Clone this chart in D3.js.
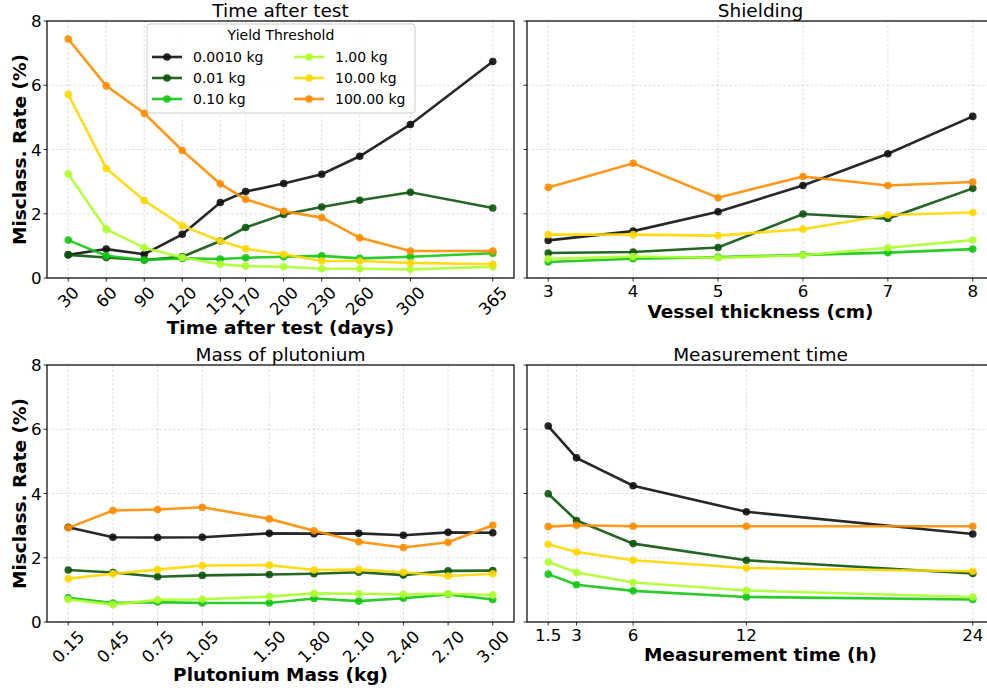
<!DOCTYPE html>
<html>
<head>
<meta charset="utf-8">
<script src="https://cdn.jsdelivr.net/npm/d3@7"></script>
<style>
  body { margin: 0; background: #fff; }
  svg text { font-family: "DejaVu Sans", sans-serif; fill: #000; }
</style>
</head>
<body>
<div id="chart"></div>
<script>
// yield thresholds (legend)
const seriesNames = ["0.0010 kg", "0.01 kg", "0.10 kg", "1.00 kg", "10.00 kg", "100.00 kg"]
const seriesColors = ["#111111", "#0d550d", "#12c612", "#adff2f", "#ffd700", "#ff8c00"]

// Time after test
const timeDays = [30, 60, 90, 120, 150, 170, 200, 230, 260, 300, 365]
const timeRates = [
  [0.72, 0.90, 0.74, 1.36, 2.35, 2.69, 2.94, 3.23, 3.79, 4.78, 6.74],
  [0.72, 0.64, 0.56, 0.66, 1.15, 1.57, 1.98, 2.21, 2.42, 2.67, 2.18],
  [1.18, 0.69, 0.56, 0.61, 0.59, 0.63, 0.66, 0.69, 0.61, 0.66, 0.77],
  [3.24, 1.52, 0.94, 0.64, 0.43, 0.37, 0.35, 0.29, 0.29, 0.27, 0.35],
  [5.72, 3.41, 2.41, 1.63, 1.15, 0.91, 0.74, 0.53, 0.53, 0.47, 0.43],
  [7.44, 5.98, 5.13, 3.97, 2.93, 2.45, 2.08, 1.88, 1.25, 0.84, 0.84]
]

// Shielding
const thickness = [3, 4, 5, 6, 7, 8]
const shieldRates = [
  [1.17, 1.46, 2.06, 2.88, 3.87, 5.03],
  [0.78, 0.81, 0.95, 1.99, 1.85, 2.79],
  [0.50, 0.60, 0.65, 0.72, 0.79, 0.90],
  [0.60, 0.67, 0.63, 0.71, 0.94, 1.18],
  [1.35, 1.35, 1.32, 1.52, 1.96, 2.04],
  [2.82, 3.57, 2.50, 3.16, 2.88, 2.99]
]

// Mass of plutonium
const puMass = [0.15, 0.45, 0.75, 1.05, 1.50, 1.80, 2.10, 2.40, 2.70, 3.00]
const massRates = [
  [2.95, 2.64, 2.63, 2.64, 2.76, 2.75, 2.76, 2.70, 2.79, 2.78],
  [1.62, 1.54, 1.41, 1.45, 1.48, 1.50, 1.55, 1.46, 1.59, 1.60],
  [0.75, 0.59, 0.62, 0.59, 0.59, 0.73, 0.65, 0.74, 0.86, 0.70],
  [0.70, 0.54, 0.69, 0.71, 0.79, 0.89, 0.88, 0.86, 0.88, 0.84],
  [1.35, 1.50, 1.63, 1.76, 1.77, 1.62, 1.63, 1.55, 1.43, 1.50],
  [2.93, 3.47, 3.50, 3.57, 3.21, 2.84, 2.50, 2.32, 2.48, 3.01]
]

// Measurement time
const measHours = [1.5, 3, 6, 12, 24]
const measRates = [
  [6.10, 5.11, 4.24, 3.43, 2.74],
  [3.99, 3.16, 2.44, 1.92, 1.51],
  [1.49, 1.16, 0.97, 0.78, 0.70],
  [1.87, 1.54, 1.23, 0.98, 0.78],
  [2.42, 2.18, 1.92, 1.68, 1.58],
  [2.97, 3.01, 2.98, 2.98, 2.98]
]

const yTicks = [0, 2, 4, 6, 8]

const panels = [
  { title: "Time after test", xlabel: "Time after test (days)", x: timeDays, rates: timeRates,
    tickText: d => String(d), left: 47, top: 21, rotate: true, ylabel: true, legend: true, labelGap: 56 },
  { title: "Shielding", xlabel: "Vessel thickness (cm)", x: thickness, rates: shieldRates,
    tickText: d => String(d), left: 527, top: 21, rotate: false, ylabel: false, labelGap: 40 },
  { title: "Mass of plutonium", xlabel: "Plutonium Mass (kg)", x: puMass, rates: massRates,
    tickText: d => d.toFixed(2), left: 47, top: 365, rotate: true, ylabel: true, labelGap: 59 },
  { title: "Measurement time", xlabel: "Measurement time (h)", x: measHours, rates: measRates,
    tickText: d => String(d), left: 527, top: 365, rotate: false, ylabel: false, labelGap: 39 }
]

const width = 987
const height = 694
const pw = 467
const ph = 257
const tickFont = 16.7
const labelFont = 18.5

const svg = d3.select("#chart").append("svg")
  .attr("width", width)
  .attr("height", height)

panels.forEach(p => {
  const lo = d3.min(p.x), hi = d3.max(p.x)
  const pad = (hi - lo) * 0.05
  const xScale = d3.scaleLinear().domain([lo - pad, hi + pad]).range([0, pw])
  const yScale = d3.scaleLinear().domain([0, 8]).range([ph, 0])

  const g = svg.append("g").attr("transform", `translate(${p.left},${p.top})`)

  // grid
  g.selectAll(".vgrid").data(p.x).enter().append("line")
    .attr("x1", d => xScale(d)).attr("x2", d => xScale(d))
    .attr("y1", 0).attr("y2", ph)
    .attr("stroke", "#b0b0b0").attr("stroke-opacity", 0.5)
    .attr("stroke-width", 0.8).attr("stroke-dasharray", "2.5,2")
  g.selectAll(".hgrid").data(yTicks).enter().append("line")
    .attr("x1", 0).attr("x2", pw)
    .attr("y1", d => yScale(d)).attr("y2", d => yScale(d))
    .attr("stroke", "#b0b0b0").attr("stroke-opacity", 0.5)
    .attr("stroke-width", 0.8).attr("stroke-dasharray", "2.5,2")

  // lines
  const line = d3.line().x((d, i) => xScale(p.x[i])).y(d => yScale(d))
  p.rates.forEach((vals, s) => {
    g.append("path")
      .datum(vals)
      .attr("d", line)
      .attr("fill", "none")
      .attr("stroke", seriesColors[s])
      .attr("stroke-opacity", 0.9)
      .attr("stroke-width", 2.6)
    g.selectAll(null).data(vals).enter().append("circle")
      .attr("cx", (d, i) => xScale(p.x[i]))
      .attr("cy", d => yScale(d))
      .attr("r", 3.8)
      .attr("fill", seriesColors[s])
      .attr("fill-opacity", 0.9)
  })

  // spines
  g.append("rect")
    .attr("width", pw).attr("height", ph)
    .attr("fill", "none").attr("stroke", "#000").attr("stroke-width", 1.2)

  // y ticks
  g.selectAll(".ytick").data(yTicks).enter().append("line")
    .attr("x1", -3.5).attr("x2", 0)
    .attr("y1", d => yScale(d)).attr("y2", d => yScale(d))
    .attr("stroke", "#000").attr("stroke-width", 0.8)
  if (p.ylabel) {
    g.selectAll(".ylab").data(yTicks).enter().append("text")
      .attr("x", -5.5).attr("y", d => yScale(d))
      .attr("text-anchor", "end").attr("dominant-baseline", "central")
      .attr("font-size", tickFont)
      .text(d => d)
    g.append("text")
      .attr("transform", `translate(${19 - p.left},${ph / 2}) rotate(-90)`)
      .attr("text-anchor", "middle").attr("dominant-baseline", "central")
      .attr("font-size", labelFont).attr("font-weight", "bold")
      .text("Misclass. Rate (%)")
  }

  // x ticks
  g.selectAll(".xtick").data(p.x).enter().append("line")
    .attr("x1", d => xScale(d)).attr("x2", d => xScale(d))
    .attr("y1", ph).attr("y2", ph + 3.5)
    .attr("stroke", "#000").attr("stroke-width", 0.8)
  const labels = g.selectAll(".xlab").data(p.x).enter().append("text")
    .attr("font-size", tickFont)
    .attr("text-anchor", "middle")
    .text(p.tickText)
  if (p.rotate) {
    labels.attr("dominant-baseline", "central")
      .attr("transform", function (d) {
        const len = this.getComputedTextLength()
        const box = (len + 13) / Math.SQRT2
        return `translate(${xScale(d)},${ph + 7 + box / 2}) rotate(-45)`
      })
  } else {
    labels.attr("x", d => xScale(d)).attr("y", ph + 19)
  }

  // titles
  g.append("text")
    .attr("x", pw / 2).attr("y", -4)
    .attr("text-anchor", "middle").attr("font-size", labelFont)
    .text(p.title)
  g.append("text")
    .attr("x", pw / 2).attr("y", ph + p.labelGap)
    .attr("text-anchor", "middle").attr("font-size", labelFont).attr("font-weight", "bold")
    .text(p.xlabel)

  // legend
  if (p.legend) {
    const lg = g.append("g").attr("transform", `translate(${147 - p.left},${24 - p.top})`)
    lg.append("rect")
      .attr("width", 268).attr("height", 89).attr("rx", 3)
      .attr("fill", "#fff").attr("fill-opacity", 0.85)
      .attr("stroke", "#cccccc").attr("stroke-width", 1)
    lg.append("text")
      .attr("x", 134).attr("y", 11)
      .attr("text-anchor", "middle").attr("dominant-baseline", "central")
      .attr("font-size", 14)
      .text("Yield Threshold")
    seriesNames.forEach((name, i) => {
      const col = Math.floor(i / 3)
      const row = i % 3
      const ox = 5 + col * 142
      const oy = 33 + row * 21
      lg.append("line")
        .attr("x1", ox).attr("x2", ox + 30)
        .attr("y1", oy).attr("y2", oy)
        .attr("stroke", seriesColors[i]).attr("stroke-opacity", 0.9).attr("stroke-width", 2.6)
      lg.append("circle")
        .attr("cx", ox + 15).attr("cy", oy).attr("r", 3.8)
        .attr("fill", seriesColors[i]).attr("fill-opacity", 0.9)
      lg.append("text")
        .attr("x", ox + 41).attr("y", oy)
        .attr("dominant-baseline", "central")
        .attr("font-size", 14)
        .text(name)
    })
  }
})
</script>
</body>
</html>
